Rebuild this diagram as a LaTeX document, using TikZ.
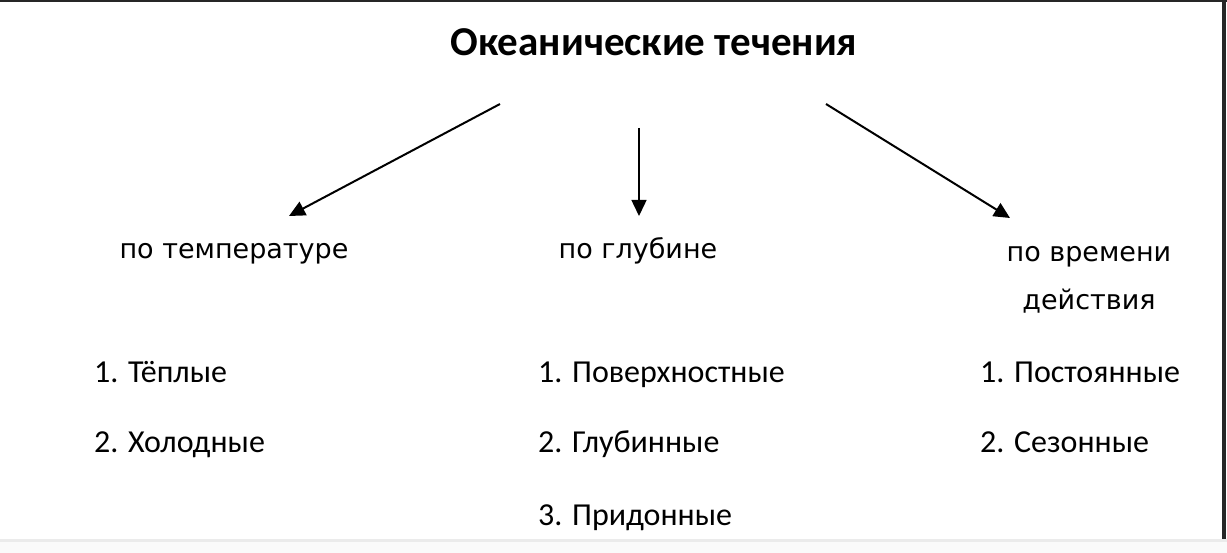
\documentclass[tikz,border=0pt]{standalone}
\usepackage{fontspec}
\setmainfont{Carlito}
\newfontfamily\verdfont{DejaVu Sans}
\usetikzlibrary{arrows.meta}

\begin{document}
\begin{tikzpicture}[x=1pt, y=-1pt,
    head/.style={font=\bfseries\fontsize{41}{48}\selectfont, anchor=base},
    kind/.style={font=\verdfont\fontsize{27}{48}\selectfont, anchor=base, align=center},
    item/.style={font=\fontsize{32}{38}\selectfont, anchor=base west, inner sep=0pt},
    arr/.style={-{Triangle[length=16pt, width=15pt]}, line width=2pt}]
  \useasboundingbox (0,0) rectangle (1227,553);
  \fill[black!85] (0,0) rectangle (1227,2.5);
  \fill[black!85] (1222,0) rectangle (1226,541);
  \fill[black!8] (0,539) rectangle (1227,542);
  \fill[black!2] (0,542) rectangle (1227,553);

  \node[head] (title) at (654,56) {Океанические течения};

  \node[kind] (temp) at (234,259) {по температуре};
  \node[kind] (depth) at (638,259) {по глубине};
  \node[kind] (time) at (1089,310) {по времени\\действия};

  \coordinate (s1) at (500,104);
  \coordinate (e1) at (289,216);
  \coordinate (s2) at (639,128);
  \coordinate (e2) at (639,216);
  \coordinate (s3) at (826,104);
  \coordinate (e3) at (1010,218);
  \draw[arr] (s1) -- (e1);
  \draw[arr, line width=1.5pt] (s2) -- (e2);
  \draw[arr] (s3) -- (e3);

  \node[item] (warm) at (94,383) {1. Тёплые};
  \node[item] (cold) at (94,453) {2. Холодные};
  \node[item] (surf) at (538,383) {1. Поверхностные};
  \node[item] (deep) at (538,453) {2. Глубинные};
  \node[item] (bottom) at (538,525) {3. Придонные};
  \node[item] (const) at (980,383) {1. Постоянные};
  \node[item] (season) at (980,453) {2. Сезонные};
\end{tikzpicture}
\end{document}
